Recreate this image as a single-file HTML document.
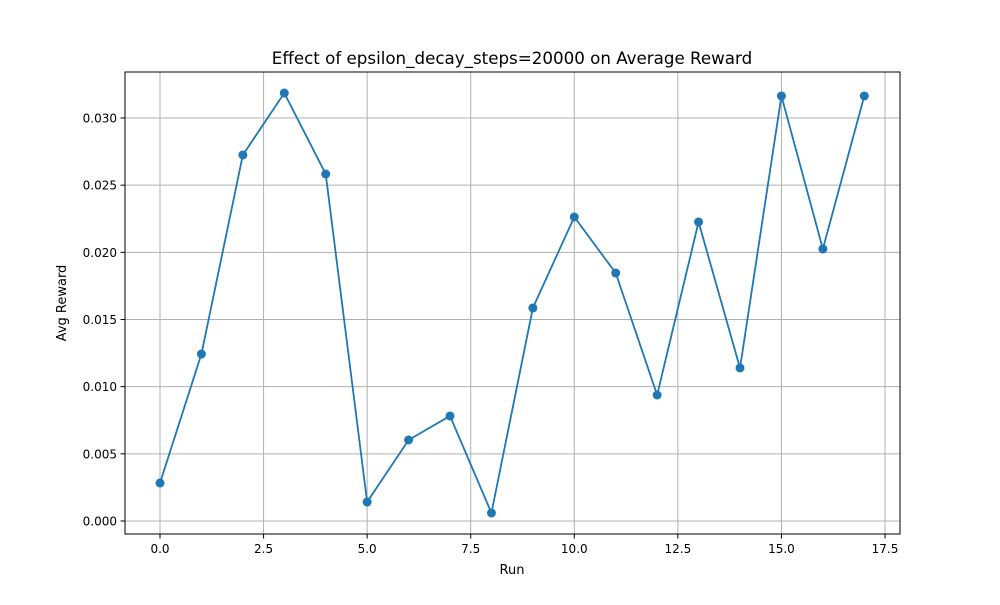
<!DOCTYPE html>
<html><head><meta charset="utf-8"><style>
body{margin:0;background:#fff;font-family:"Liberation Sans","DejaVu Sans",sans-serif}
svg text{font-family:"DejaVu Sans","Liberation Sans",sans-serif}
</style></head><body>
<svg id="chart" width="1000" height="600" xmlns="http://www.w3.org/2000/svg">
<rect x="0" y="0" width="1000" height="600" fill="#fff"/>
<g id="grid"></g>
<g id="series"></g>
<rect x="125" y="72" width="775" height="462" fill="none" stroke="#000" stroke-width="1"/>
<g id="ticks"></g>
<text x="512" y="64" text-anchor="middle" font-size="16.7">Effect of epsilon_decay_steps=20000 on Average Reward</text>
<text x="512" y="574" text-anchor="middle" font-size="13">Run</text>
<text x="66" y="303" text-anchor="middle" font-size="13" transform="rotate(-90 66 303)">Avg Reward</text>
</svg>
<script>
const runs=[0,1,2,3,4,5,6,7,8,9,10,11,12,13,14,15,16,17];
const rewards=[0.00283,0.01243,0.02725,0.03186,0.02583,0.00141,0.00603,0.00782,0.0006,0.01586,0.02263,0.01846,0.00938,0.02226,0.01139,0.03164,0.02025,0.03164];
const xTicks=[0,2.5,5,7.5,10,12.5,15,17.5];
const yTicks=[0,0.005,0.01,0.015,0.02,0.025,0.03];
const NS="http://www.w3.org/2000/svg";
const X=v=>160+v*(725/17.5);
const Y=v=>521-v*(403/0.03);
function mk(t,a,p){const e=document.createElementNS(NS,t);for(const k in a)e.setAttribute(k,a[k]);p.appendChild(e);return e;}
const grid=document.getElementById('grid'),ticks=document.getElementById('ticks'),ser=document.getElementById('series');
xTicks.forEach(v=>{const x=X(v);
const g=mk('line',{x1:x,x2:x,y1:72,y2:534,stroke:'#b0b0b0','stroke-width':1},grid);


const t=mk('line',{x1:x,x2:x,y1:534,y2:538.5,stroke:'#000'},ticks);


const l=mk('text',{x:x,y:553,'text-anchor':'middle','font-size':12},ticks);l.textContent=v.toFixed(1);

});
yTicks.forEach(v=>{const y=Y(v);
const g=mk('line',{x1:125,x2:900,y1:y,y2:y,stroke:'#b0b0b0','stroke-width':1},grid);


const t=mk('line',{x1:120.5,x2:125,y1:y,y2:y,stroke:'#000'},ticks);


const l=mk('text',{x:117,y:y+4.5,'text-anchor':'end','font-size':12},ticks);l.textContent=v.toFixed(3);

});
const pl=mk('polyline',{points:runs.map((r,i)=>X(r)+','+Y(rewards[i])).join(' '),fill:'none',stroke:'#1f77b4','stroke-width':1.8},ser);


runs.forEach((r,i)=>{const c=mk('circle',{cx:X(r),cy:Y(rewards[i]),r:4.5,fill:'#1f77b4'},ser);

});
</script>
</body></html>
